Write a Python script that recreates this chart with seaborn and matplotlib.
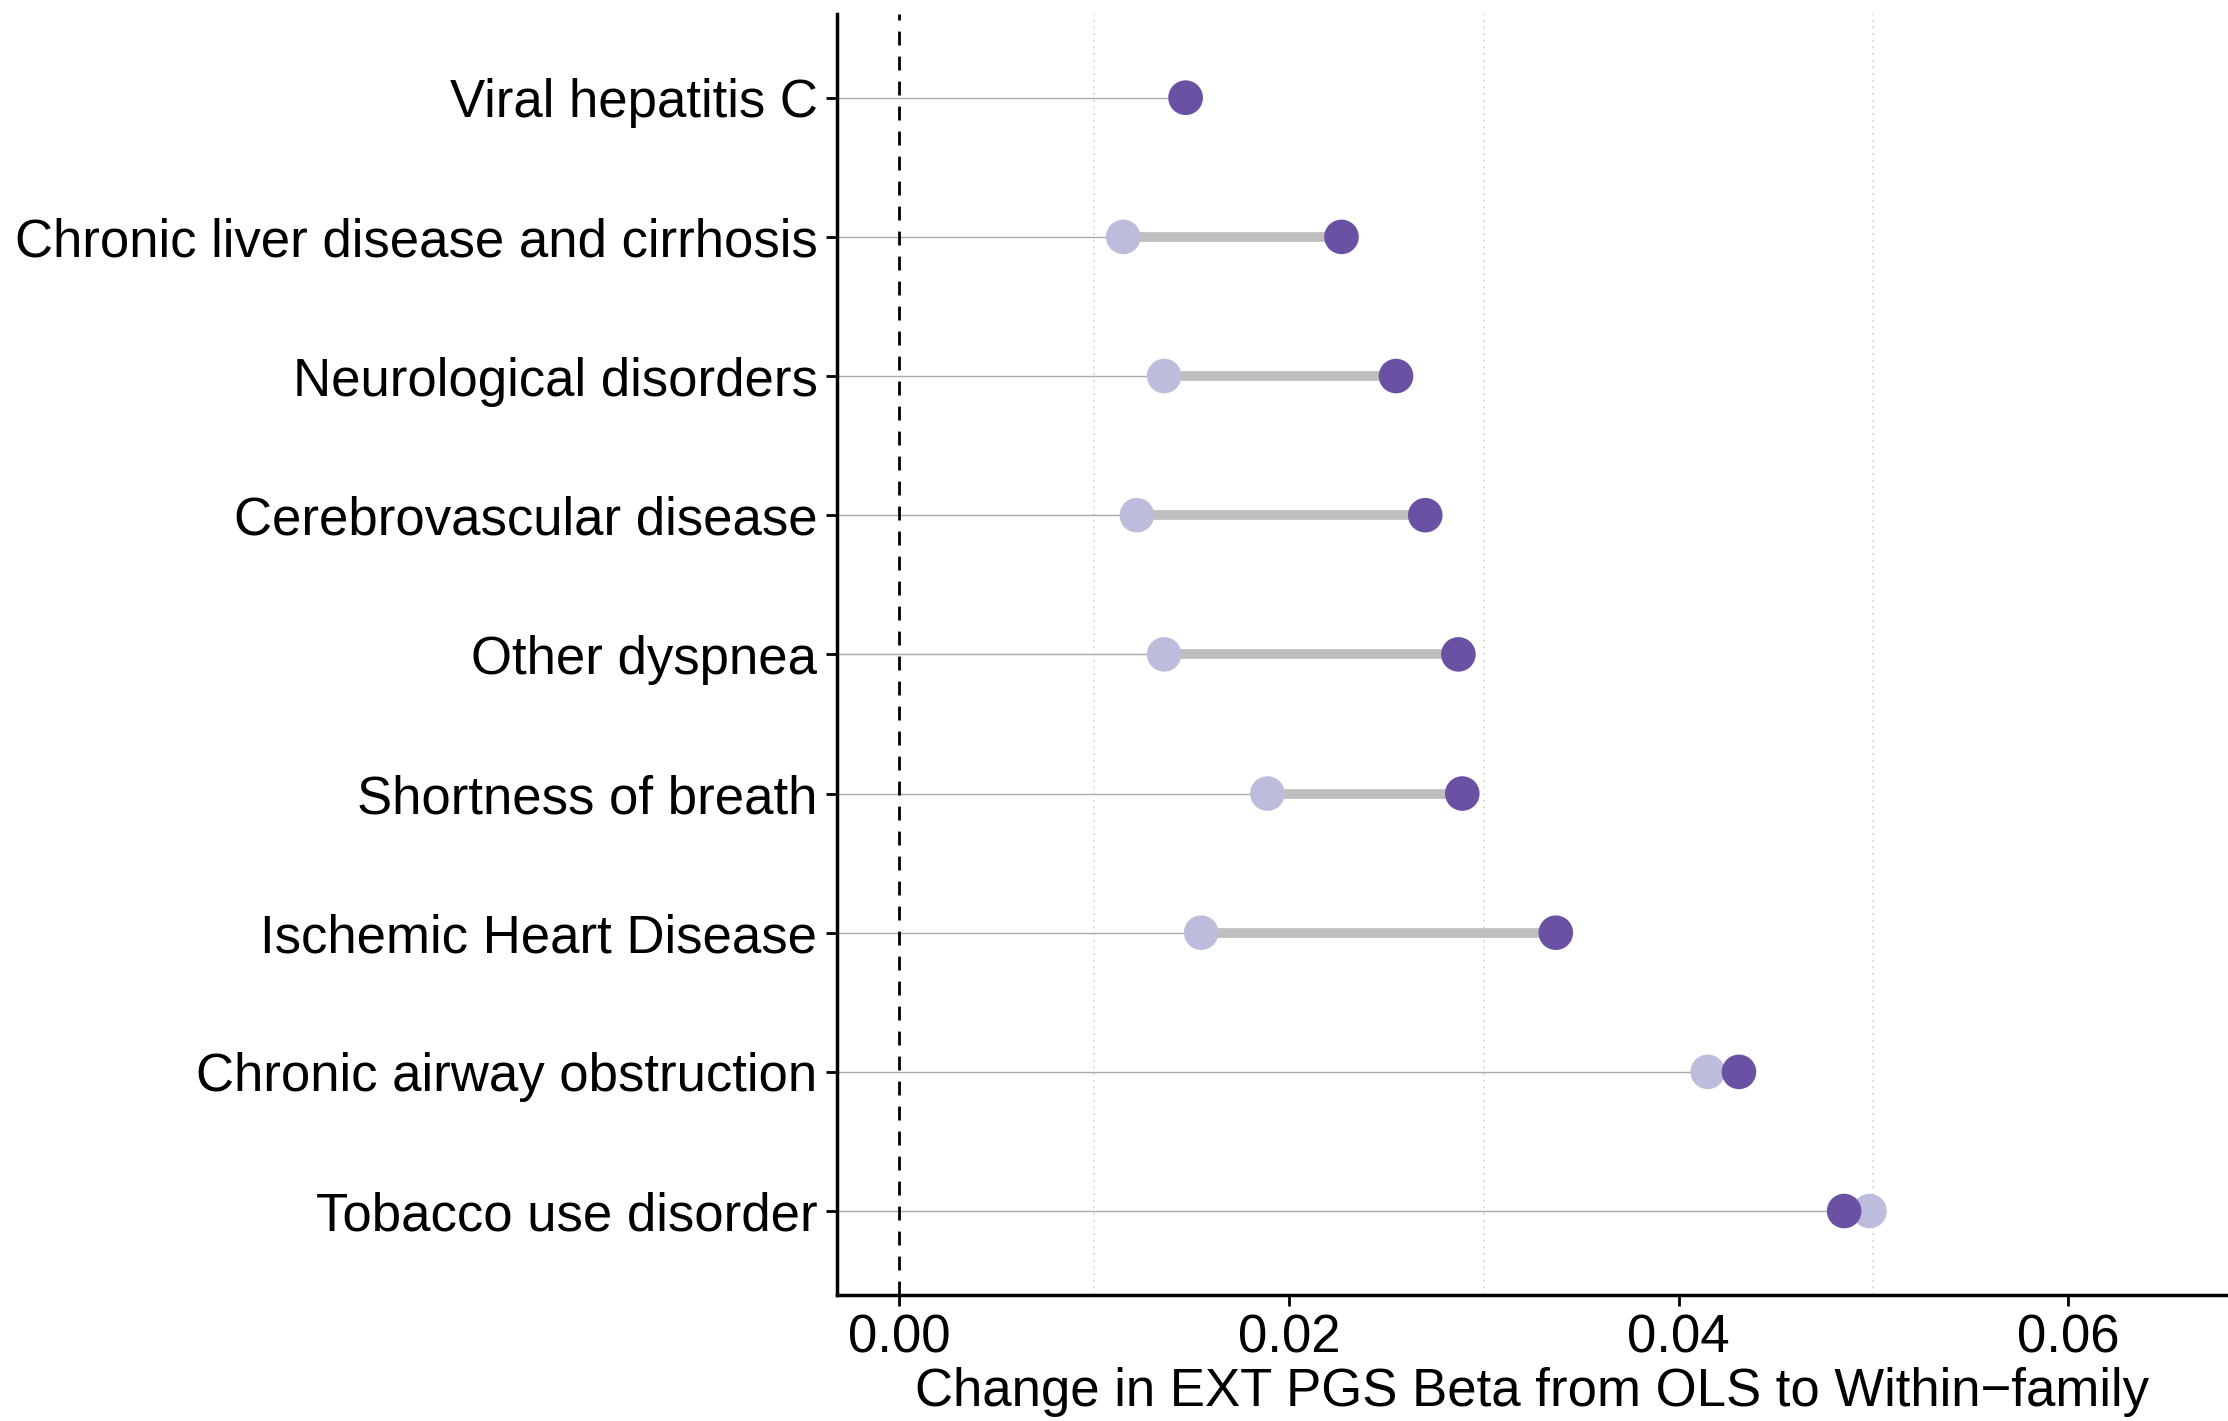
import numpy as np
import pandas as pd
import seaborn as sns
import matplotlib.pyplot as plt

outcomes = ['Viral hepatitis C', 'Chronic liver disease and cirrhosis',
            'Neurological disorders', 'Cerebrovascular disease', 'Other dyspnea',
            'Shortness of breath', 'Ischemic Heart Disease',
            'Chronic airway obstruction', 'Tobacco use disorder']
ols = [0.0147, 0.0115, 0.0136, 0.0122, 0.0136, 0.0189, 0.0155, 0.0415, 0.0498]
within = [0.0147, 0.0227, 0.0255, 0.0270, 0.0287, 0.0289, 0.0337, 0.0431, 0.0485]
models = ['OLS', 'Within-family']
colors = ['#BCBDDC', '#6A51A3']

XMIN, XMAX = -0.0032, 0.0682

df = pd.DataFrame({'outcome': outcomes * 2,
                   'beta': ols + within,
                   'model': [models[0]] * len(outcomes) + [models[1]] * len(outcomes)})
wide = pd.DataFrame({'outcome': outcomes, 'ols': ols, 'within': within})
wide['lo'] = wide[['ols', 'within']].min(axis=1)

sns.set_theme(style='white')
plt.rcParams['font.family'] = ['Liberation Sans', 'DejaVu Sans']
plt.rcParams['text.color'] = 'black'
plt.rcParams['axes.labelcolor'] = 'black'

fig = plt.figure(figsize=(22.28, 14.21), dpi=100)
ax = fig.add_axes([0.3756, 0.089, 0.6244, 0.901])

ypos = np.arange(len(outcomes))

# dotted grid at the minor breaks
for g in [0.01, 0.03, 0.05]:
    ax.axvline(g, color='#d0d0d0', lw=1.2, ls=(0, (1, 3)), zorder=0)

# thin guide from the axis to the first point
ax.hlines(ypos, XMIN, wide['lo'], color='#aaaaaa', lw=1.0, zorder=1)
ax.axvline(0, color='black', lw=2, ls=(0, (5, 4)), zorder=1)
# thick segment between the two estimates
ax.hlines(ypos, wide['ols'], wide['within'], color='#bebebe', lw=7, zorder=2)

sns.scatterplot(data=df, x='beta', y='outcome', hue='model', hue_order=models,
                palette=colors, s=620, linewidth=0, legend=False, ax=ax, zorder=3)

ax.set_xlim(XMIN, XMAX)
ax.set_ylim(len(outcomes) - 0.4, -0.6)
ax.set_xticks([0.00, 0.02, 0.04, 0.06])
ax.set_xticklabels(['0.00', '0.02', '0.04', '0.06'])
ax.tick_params(axis='both', labelsize=38, colors='black', length=8, width=2,
               direction='out', left=True, bottom=True, pad=6)
ax.set_xlabel('Change in EXT PGS Beta from OLS to Within\u2212family', fontsize=38, labelpad=2)
ax.set_ylabel('')
for s in ['top', 'right']:
    ax.spines[s].set_visible(False)
for s in ['left', 'bottom']:
    ax.spines[s].set_color('black')
    ax.spines[s].set_linewidth(2.5)

plt.savefig('out.png', dpi=100)
